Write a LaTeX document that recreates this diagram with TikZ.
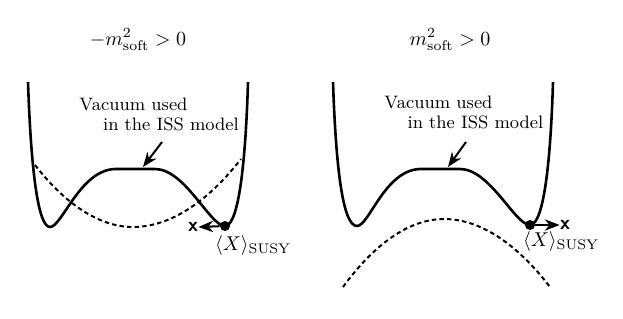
\documentclass[tikz,border=0pt]{standalone}
\usepackage{amsmath}
\usetikzlibrary{arrows.meta}

\begin{document}
\begin{tikzpicture}[
    x=0.5pt, y=-0.5pt,
    every node/.style={font=\normalsize},
    note/.style={font=\small, anchor=base},
    pot/.style={line width=1.3pt, line join=round},
    trial/.style={line width=1pt, dash pattern=on 2.2pt off 1.6pt},
    arrow/.style={-{Stealth[length=2.6mm, width=2mm]}, line width=1pt},
    vac/.style={circle, fill=black, inner sep=0pt, minimum size=5pt},
    shiftdir/.style={font=\sffamily\bfseries, inner sep=0pt}
]
\useasboundingbox (0,0) rectangle (623,318);

% ============ LEFT: NEGATIVE SOFT MASS ============
\node[anchor=base] (titleL) at (138,45) {$-m^2_{\text{soft}}>0$};

% potential
\draw[pot] (28,82) .. controls (31,170) and (38,227) .. (50,227)
    .. controls (62,227) and (80,170) .. (115,169) -- (155,169)
    .. controls (185,169) and (210,226) .. (225,226)
    .. controls (240,226) and (246,150) .. (248,82);

% soft mass contribution
\draw[trial] (35,165) parabola bend (133,227) (241,159);

% labels
\node[note] (usedL) at (133.5,110) {Vacuum used};
\node[note] (issL) at (171,130) {in the ISS model};
\coordinate (plateauL) at (143,167);
\draw[arrow] (162,142) -- (plateauL);

\node[vac] (dotL) at (225,226) {};
\node[shiftdir] (xL) at (193,227) {x};
\draw[arrow] (dotL) -- (xL.east);
\node (susyL) at (253,245) {$\langle X\rangle_{\text{SUSY}}$};

% ============ RIGHT: POSITIVE SOFT MASS ============
\node[anchor=base] (titleR) at (450,45) {$m^2_{\text{soft}}>0$};

\begin{scope}[xshift=305*0.5pt]
\draw[pot] (28,82) .. controls (31,170) and (38,226) .. (52,226)
    .. controls (64,226) and (80,170) .. (115,169) -- (155,169)
    .. controls (185,169) and (210,225) .. (225,225)
    .. controls (240,225) and (246,150) .. (248,82);
\end{scope}

\draw[trial] (343,287) parabola bend (444,219) (550,287);

\node[note] (usedR) at (438.5,108) {Vacuum used};
\node[note] (issR) at (475.5,128) {in the ISS model};
\coordinate (plateauR) at (448,167);
\draw[arrow] (466,142) -- (plateauR);

\node[vac] (dotR) at (530,225) {};
\node[shiftdir] (xR) at (565,225) {x};
\draw[arrow] (dotR) -- (xR.west);
\node (susyR) at (561,241) {$\langle X\rangle_{\text{SUSY}}$};

\end{tikzpicture}
\end{document}
